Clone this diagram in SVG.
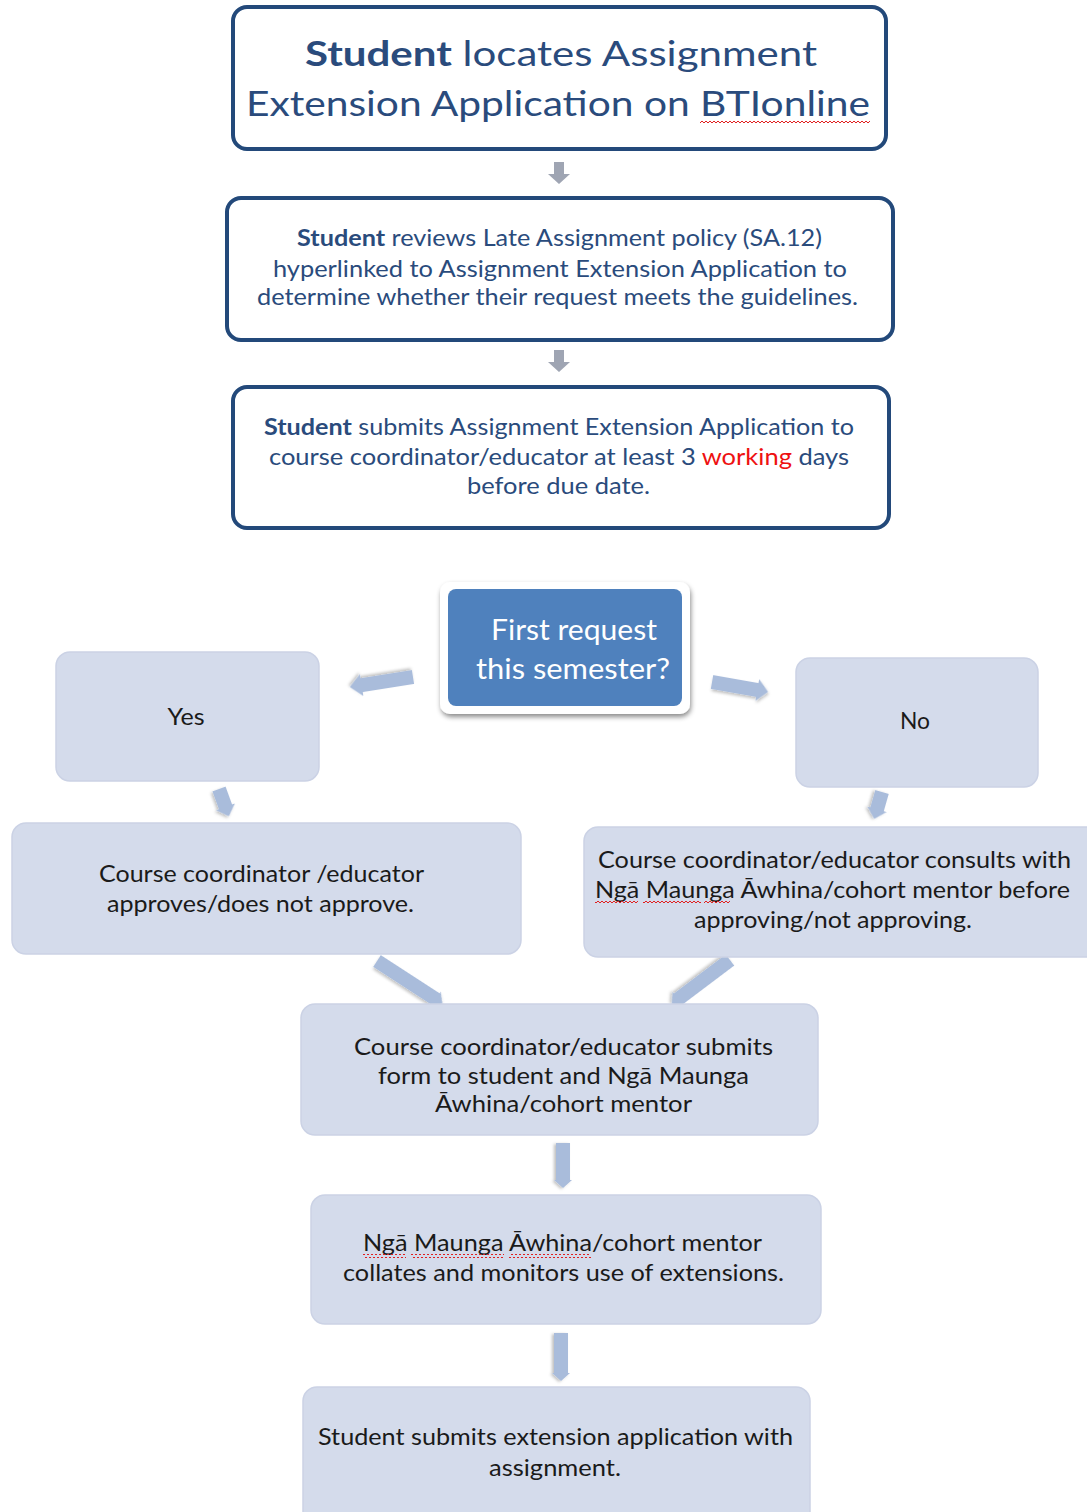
<svg xmlns="http://www.w3.org/2000/svg" width="1087" height="1512" viewBox="0 0 1087 1512">
<style>
.hdr{fill:#fff;stroke:#23497a;stroke-width:4}
.lt{fill:#d4dbeb;stroke:#cbd2e5;stroke-width:1.5}
.t{font-family:Lato,"Liberation Sans",sans-serif;text-anchor:middle}
.blue{fill:#2a4b7c}
.blk{fill:#1a1a1a;font-size:23px}
.conn{fill:#a9bcdb;filter:url(#sh)}
.gray{fill:#9fa5b3}
</style>
<defs>
<filter id="sh" x="-30%" y="-30%" width="160%" height="160%"><feDropShadow dx="1" dy="2" stdDeviation="1.5" flood-color="#000" flood-opacity="0.25"/></filter>
<filter id="sh2" x="-10%" y="-10%" width="120%" height="130%"><feDropShadow dx="1" dy="3" stdDeviation="2.5" flood-color="#000" flood-opacity="0.45"/></filter>
<pattern id="sq" width="4" height="4" patternUnits="userSpaceOnUse"><path d="M0,3 L2,1 L4,3" stroke="#e02020" stroke-width="1" fill="none"/></pattern>
</defs>
<rect width="1087" height="1512" fill="#fff"/>

<g id="connectors">
<path class="gray" transform="translate(559,162) rotate(90)" d="M0,-5 L12,-5 L12,-11 L22,0 L12,11 L12,5 L0,5 Z"/>
<path class="gray" transform="translate(559,350) rotate(90)" d="M0,-5 L12,-5 L12,-11 L22,0 L12,11 L12,5 L0,5 Z"/>
<path class="conn" transform="translate(413,677) rotate(171)" d="M0,-7 L52,-7 L52,-11 L64,0 L52,11 L52,7 L0,7 Z"/>
<path class="conn" transform="translate(712,682) rotate(10)" d="M0,-7 L46,-7 L46,-11 L57,0 L46,11 L46,7 L0,7 Z"/>
<path class="conn" transform="translate(219,789) rotate(70)" d="M0,-7 L19,-7 L19,-10 L29,0 L19,10 L19,7 L0,7 Z"/>
<path class="conn" transform="translate(882,792) rotate(106)" d="M0,-7 L18,-7 L18,-10 L28,0 L18,10 L18,7 L0,7 Z"/>
<path class="conn" transform="translate(377,961) rotate(33)" d="M0,-7 L70,-7 L70,-9 L78,0 L70,9 L70,7 L0,7 Z"/>
<path class="conn" transform="translate(730,960) rotate(143)" d="M0,-7 L65,-7 L65,-9 L73,0 L65,9 L65,7 L0,7 Z"/>
<path class="conn" transform="translate(563,1143) rotate(90)" d="M0,-7 L37,-7 L37,-9 L45,0 L37,9 L37,7 L0,7 Z"/>
<path class="conn" transform="translate(561,1333) rotate(90)" d="M0,-7 L40,-7 L40,-9 L48,0 L40,9 L40,7 L0,7 Z"/>
</g>

<g id="n1">
<rect class="hdr" x="233" y="7" width="653" height="142" rx="14"/>
<text class="t blue" x="561" y="66" font-size="35" textLength="512" lengthAdjust="spacingAndGlyphs"><tspan font-weight="bold">Student</tspan> locates Assignment</text>
<text class="t blue" x="558" y="116" font-size="35" textLength="624" lengthAdjust="spacingAndGlyphs">Extension Application on BTIonline</text>
<rect x="700" y="119" width="170" height="4" fill="url(#sq)"/>
</g>

<g id="n2">
<rect class="hdr" x="227" y="198" width="666" height="142" rx="14"/>
<text class="t blue" x="559.5" y="246" font-size="23" textLength="525" lengthAdjust="spacingAndGlyphs"><tspan font-weight="bold">Student</tspan> reviews Late Assignment policy (SA.12)</text>
<text class="t blue" x="560" y="277" font-size="23" textLength="574" lengthAdjust="spacingAndGlyphs">hyperlinked to Assignment Extension Application to</text>
<text class="t blue" x="557.5" y="305" font-size="23" textLength="601" lengthAdjust="spacingAndGlyphs">determine whether their request meets the guidelines.</text>
</g>

<g id="n3">
<rect class="hdr" x="233" y="387" width="656" height="141" rx="14"/>
<text class="t blue" x="559" y="435" font-size="23" textLength="590" lengthAdjust="spacingAndGlyphs"><tspan font-weight="bold">Student</tspan> submits Assignment Extension Application to</text>
<text class="t blue" x="559" y="465" font-size="23" textLength="580" lengthAdjust="spacingAndGlyphs">course coordinator/educator at least 3 <tspan fill="#ee1111">working</tspan> days</text>
<text class="t blue" x="558.5" y="494" font-size="23" textLength="183" lengthAdjust="spacingAndGlyphs">before due date.</text>
</g>

<g id="decision">
<rect x="440" y="582" width="250" height="132" rx="10" fill="#fff" filter="url(#sh2)"/>
<rect x="448" y="589" width="234" height="117" rx="8" fill="#4f81bd"/>
<text class="t" fill="#fff" x="574" y="640" font-size="29" textLength="166" lengthAdjust="spacingAndGlyphs">First request</text>
<text class="t" fill="#fff" x="573" y="679" font-size="29" textLength="194" lengthAdjust="spacingAndGlyphs">this semester?</text>
</g>

<g id="yes">
<rect class="lt" x="56" y="652" width="263" height="129" rx="14"/>
<text class="t blk" x="186" y="725" textLength="37" lengthAdjust="spacingAndGlyphs">Yes</text>
</g>

<g id="no">
<rect class="lt" x="796" y="658" width="242" height="129" rx="14"/>
<text class="t blk" x="915" y="729" textLength="30" lengthAdjust="spacingAndGlyphs">No</text>
</g>

<g id="approve">
<rect class="lt" x="12" y="823" width="509" height="131" rx="14"/>
<text class="t blk" x="261.5" y="882" textLength="325" lengthAdjust="spacingAndGlyphs">Course coordinator /educator</text>
<text class="t blk" x="260.5" y="912" textLength="307" lengthAdjust="spacingAndGlyphs">approves/does not approve.</text>
</g>

<g id="consult">
<rect class="lt" x="584" y="827" width="520" height="130" rx="14"/>
<text class="t blk" x="834.5" y="868" textLength="473" lengthAdjust="spacingAndGlyphs">Course coordinator/educator consults with</text>
<text class="t blk" x="832.5" y="898" textLength="475" lengthAdjust="spacingAndGlyphs">Ngā Maunga Āwhina/cohort mentor before</text>
<text class="t blk" x="833" y="928" textLength="278" lengthAdjust="spacingAndGlyphs">approving/not approving.</text>
<rect x="595" y="901" width="43" height="4" fill="url(#sq)"/>
<rect x="643" y="901" width="58" height="4" fill="url(#sq)"/>
<rect x="704" y="901" width="26" height="4" fill="url(#sq)"/>
</g>

<g id="submitform">
<rect class="lt" x="301" y="1004" width="517" height="131" rx="14"/>
<text class="t blk" x="563.5" y="1055" font-size="24" textLength="419" lengthAdjust="spacingAndGlyphs">Course coordinator/educator submits</text>
<text class="t blk" x="563.5" y="1084" font-size="24" textLength="371" lengthAdjust="spacingAndGlyphs">form to student and Ngā Maunga</text>
<text class="t blk" x="563.5" y="1112" font-size="24" textLength="257" lengthAdjust="spacingAndGlyphs">Āwhina/cohort mentor</text>
</g>

<g id="collate">
<rect class="lt" x="311" y="1195" width="510" height="129" rx="14"/>
<text class="t blk" x="562.5" y="1251" textLength="399" lengthAdjust="spacingAndGlyphs">Ngā Maunga Āwhina/cohort mentor</text>
<text class="t blk" x="563.5" y="1281" textLength="441" lengthAdjust="spacingAndGlyphs">collates and monitors use of extensions.</text>
<rect x="363" y="1254" width="43" height="4" fill="url(#sq)"/>
<rect x="411" y="1254" width="93" height="4" fill="url(#sq)"/>
<rect x="509" y="1254" width="82" height="4" fill="url(#sq)"/>
</g>

<g id="final">
<rect class="lt" x="303" y="1387" width="507" height="140" rx="14"/>
<text class="t blk" x="555.5" y="1445" textLength="475" lengthAdjust="spacingAndGlyphs">Student submits extension application with</text>
<text class="t blk" x="555" y="1476" textLength="132" lengthAdjust="spacingAndGlyphs">assignment.</text>
</g>
</svg>
